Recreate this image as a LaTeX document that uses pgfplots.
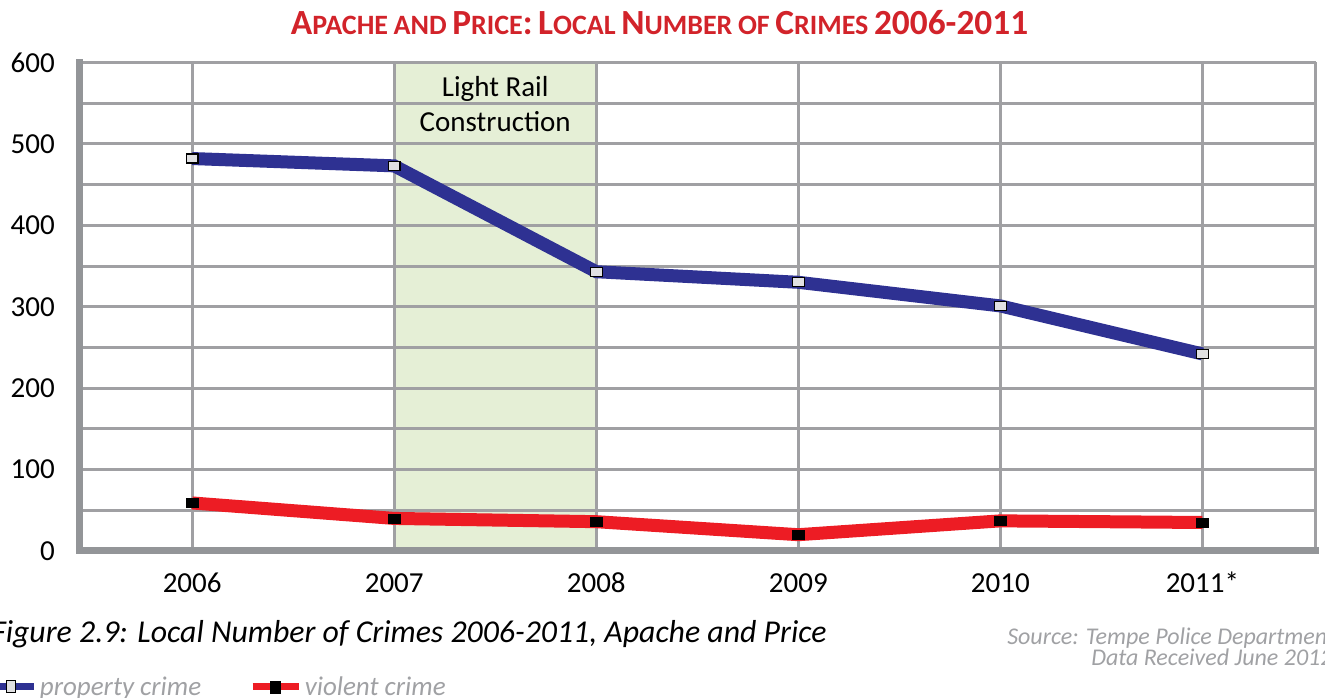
\documentclass[border=0pt]{standalone}
\usepackage{fontspec}
\setmainfont{Carlito}
\usepackage{pgfplots}
\pgfplotsset{compat=1.18}
\definecolor{navy}{HTML}{2E3192}
\definecolor{vred}{HTML}{ED1C24}
\definecolor{shade}{HTML}{E5EFD6}
\definecolor{gridgray}{HTML}{A0A0A3}
\definecolor{axisgray}{HTML}{939598}
\definecolor{titlered}{HTML}{D2232A}
\definecolor{markgray}{HTML}{E0E0E2}
\definecolor{txtgray}{HTML}{A0A1A4}
\newcommand{\ticksize}{\fontsize{21.75pt}{26pt}\selectfont}
\newcommand{\bigsc}{\fontsize{26.5pt}{32pt}\selectfont}
\newcommand{\smallsc}{\fontsize{21pt}{25pt}\selectfont}
\newcommand{\tsc}[2]{{\bigsc #1}{\smallsc #2}}
\newcommand{\tsp}{\hspace{4.2pt}}
\begin{document}
\begin{tikzpicture}[x=0.75pt,y=0.75pt]
\begin{axis}[
  at={(59.25pt,110.25pt)}, anchor=south west,
  set layers,
  scale only axis, width=927.4pt, height=366.4pt,
  xmin=-0.56, xmax=5.56, ymin=0, ymax=600,
  axis x line*=bottom, axis y line*=left,
  x axis line style={-, line width=5.25pt, draw=axisgray, line cap=rect},
  y axis line style={-, line width=5.25pt, draw=axisgray, line cap=rect},
  xtick={0,1,2,3,4,5},
  xticklabels={2006,2007,2008,2009,2010,2011*},
  ytick={0,100,...,600},
  minor ytick={50,150,...,550},
  extra x ticks={5.56}, extra x tick labels={},
  extra x tick style={grid=major},
  grid=both,
  major grid style={draw=gridgray, line width=2.25pt},
  minor grid style={draw=gridgray, line width=2.25pt},
  major tick length=0pt, minor tick length=0pt,
  tick label style={font=\ticksize},
  /pgf/number format/assume math mode=true,
  yticklabel style={anchor=east, inner sep=0pt, xshift=-18pt},
  xticklabel style={anchor=base, inner sep=0pt, yshift=-31.5pt},
  clip=false,
  legend columns=2,
  legend style={at={(-0.0768,-0.2784)}, anchor=west, draw=none, fill=none,
    inner sep=0pt, font=\fontsize{20.25pt}{24pt}\selectfont\itshape, text=txtgray,
    /tikz/every even column/.append style={column sep=34pt}},
]
\addplot[draw=none, fill=shade, on layer=axis background, forget plot]
  coordinates {(1,0) (1,600) (2,600) (2,0)} \closedcycle;
\node[anchor=north, align=center, inner sep=0pt, font=\fontsize{21.75pt}{26.25pt}\selectfont]
  at (axis cs:1.5,600) [yshift=-10pt] {Light Rail\\Construction};
\addplot[color=navy, line width=9.75pt, mark=square*, mark size=3.4pt,
  mark options={fill=markgray, draw=black, line width=0.9pt, xscale=1.3, solid},
  legend image code/.code={
    \draw[navy, line width=5.25pt] (0pt,0pt) -- (34.5pt,0pt);
    \draw[black, fill=markgray, line width=0.75pt] (13.9pt,-4.5pt) rectangle (20.6pt,4.5pt);
  }]
  coordinates {(0,482) (1,473) (2,343) (3,330) (4,301) (5,242)};
\addlegendentry{property crime}
\addplot[color=vred, line width=9.75pt, mark=square*, mark size=3.4pt,
  mark options={fill=black, draw=black, line width=0.5pt, xscale=1.3, solid},
  legend image code/.code={
    \draw[vred, line width=5.25pt] (0pt,0pt) -- (34.5pt,0pt);
    \draw[black, fill=black, line width=0.5pt] (13.5pt,-4.5pt) rectangle (21pt,4.5pt);
  }]
  coordinates {(0,59) (1,40) (2,36) (3,20) (4,37) (5,35)};
\addlegendentry{violent crime}
\end{axis}
\node[anchor=base, inner sep=0pt, text=titlered, font=\bfseries] at (659.5,663)
  {\tsc{A}{PACHE\tsp AND}\tsp\tsc{P}{RICE}{\bigsc:}\tsp\tsc{L}{OCAL}\tsp\tsc{N}{UMBER\tsp OF}\tsp\tsc{C}{RIMES}\tsp{\bigsc 2006-2011}};
\node[anchor=base west, inner sep=0pt, font=\fontsize{23.85pt}{28pt}\selectfont\itshape] at (-9,55)
  {Figure 2.9: Local Number of Crimes 2006-2011, Apache and Price};
\node[anchor=base west, inner sep=0pt, text=txtgray, font=\fontsize{18pt}{21pt}\selectfont\itshape] at (1007,53)
  {Source: Tempe Police Department};
\node[anchor=base west, inner sep=0pt, text=txtgray, font=\fontsize{18pt}{21pt}\selectfont\itshape] at (1091,32)
  {Data Received June 2012};
\pgfresetboundingbox
\path[use as bounding box] (0,0) rectangle (1325,698);
\end{tikzpicture}
\end{document}
